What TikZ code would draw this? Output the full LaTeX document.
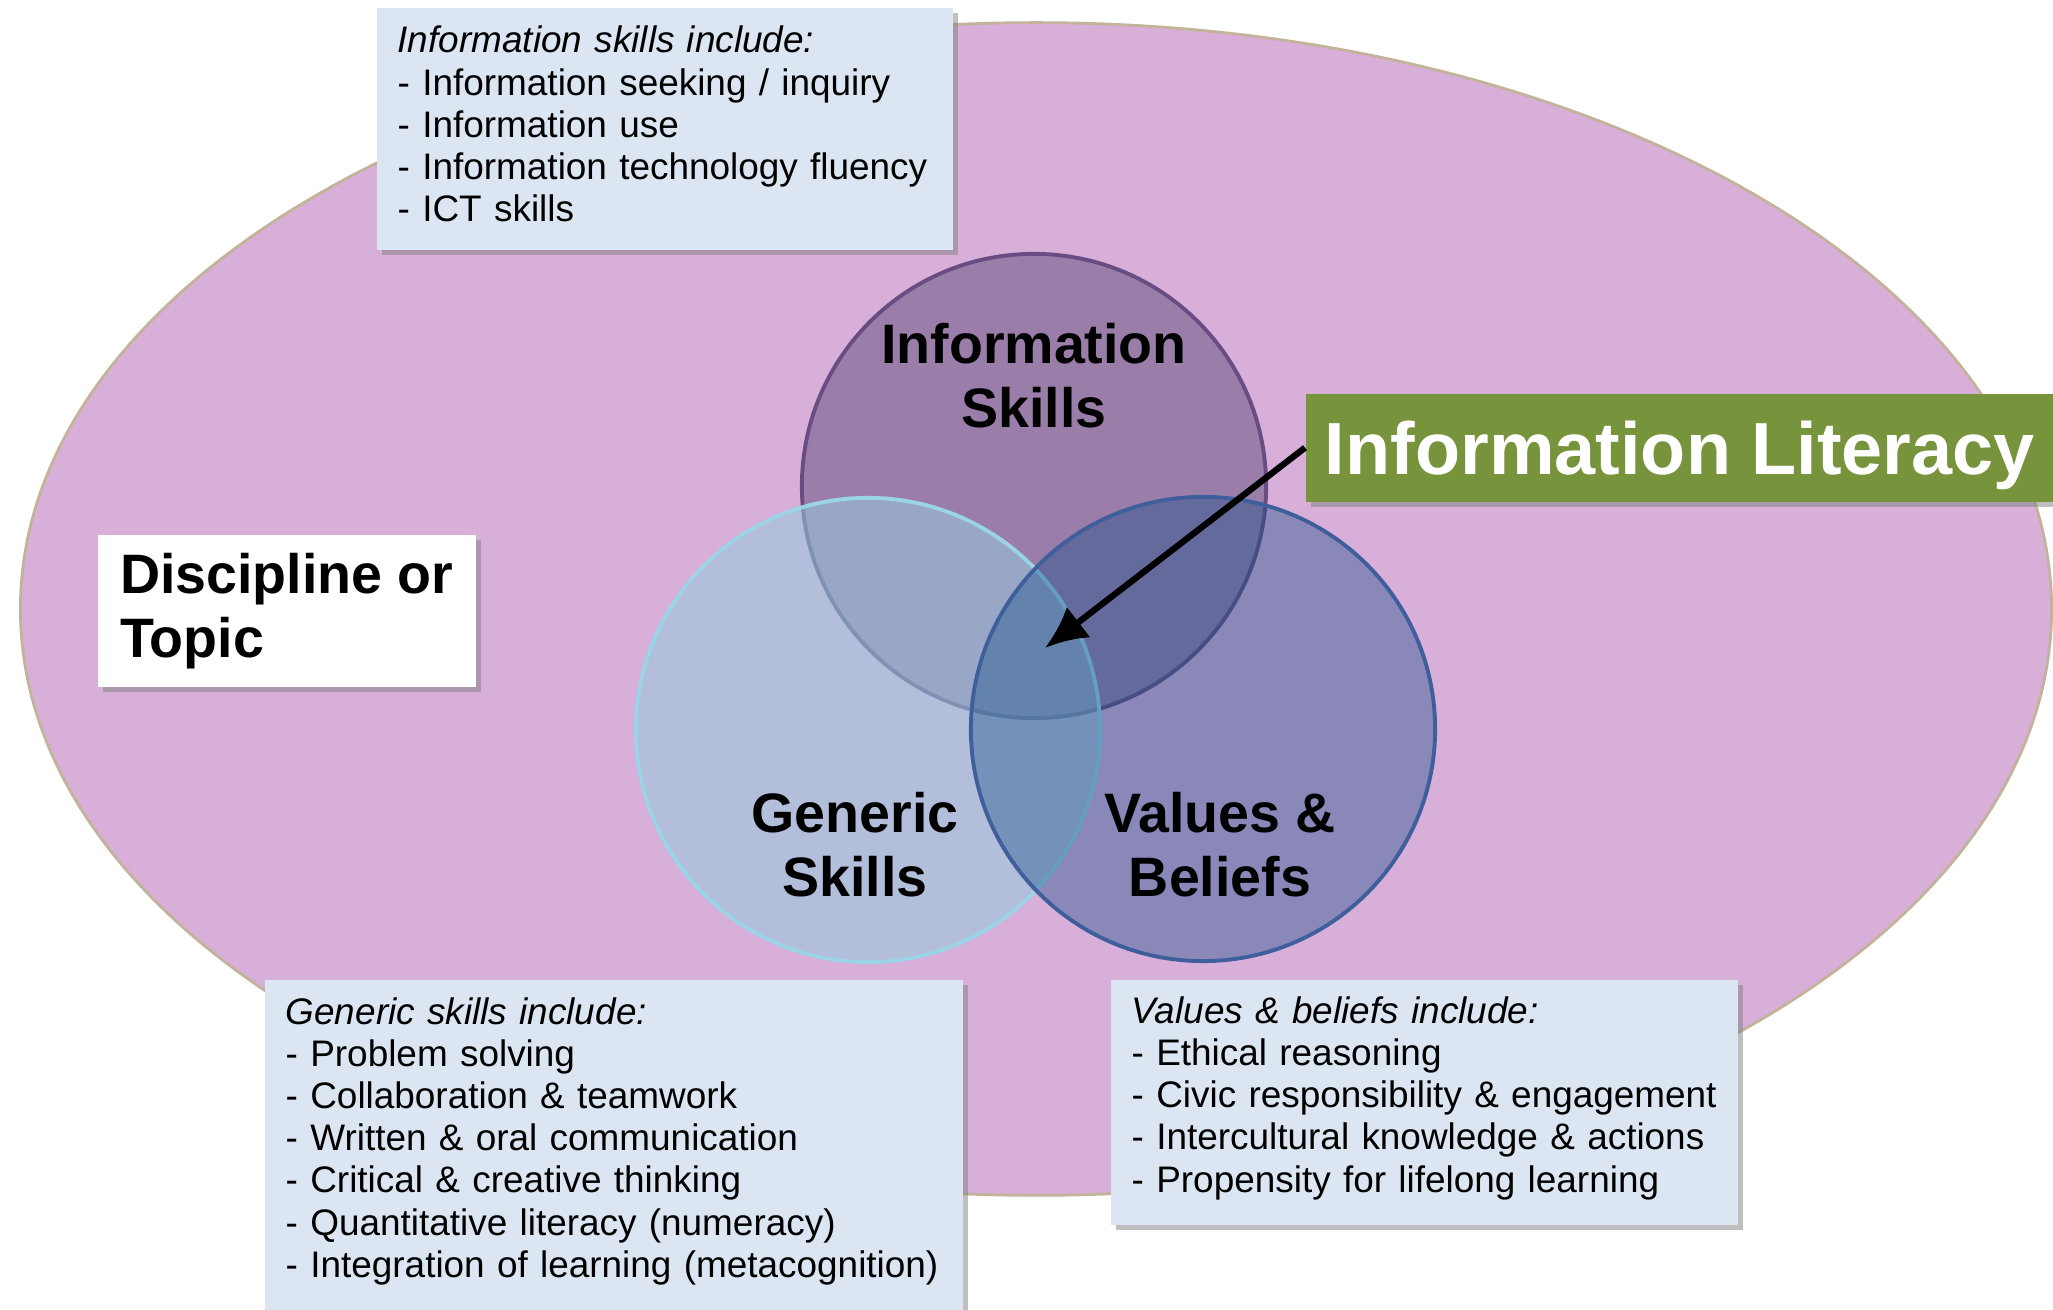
\documentclass[tikz,border=0pt]{standalone}
\usepackage{fontspec}
\setmainfont{Liberation Sans}
\usepackage{xcolor}
\usepackage{tikz}
\usetikzlibrary{arrows.meta,positioning,shadows}
\definecolor{topicPink}{HTML}{D8AFD8}
\definecolor{topicEdge}{HTML}{C2B39A}
\definecolor{infoFill}{HTML}{9B7DAA}
\definecolor{infoEdge}{HTML}{684C82}
\definecolor{genFill}{HTML}{96CBDC}
\definecolor{genEdge}{HTML}{9AD4E6}
\definecolor{valFill}{HTML}{154F88}
\definecolor{valEdge}{HTML}{3E5E9C}
\definecolor{noteFill}{HTML}{DCE6F2}
\definecolor{litGreen}{HTML}{77933C}

\tikzset{
  topicArea/.style={fill=topicPink, draw=topicEdge, line width=0.8pt},
  skillset/.style={circle, minimum size=4.64cm, inner sep=0pt, line width=1.1pt},
  setlabel/.style={align=center, inner sep=0pt, font=\fontsize{15.8}{18.2}\selectfont\bfseries},
  notebox/.style={anchor=north west, fill=noteFill, align=left, inner xsep=0.21cm, inner ysep=0pt,
    font=\fontsize{10.5}{12}\selectfont,
    drop shadow={shadow xshift=1.5pt, shadow yshift=-1.5pt, opacity=0.5}},
  topicbox/.style={anchor=north west, fill=white, align=left, inner sep=0pt,
    minimum width=3.78cm, minimum height=1.52cm, font=\fontsize{15.8}{18.2}\selectfont\bfseries,
    drop shadow={shadow xshift=1.5pt, shadow yshift=-1.5pt, opacity=0.5}},
  litbox/.style={anchor=north west, fill=litGreen, text=white, inner sep=0pt, text depth=0pt,
    minimum width=7.48cm, minimum height=1.08cm, font=\fontsize{21}{24}\selectfont\bfseries,
    drop shadow={shadow xshift=1.5pt, shadow yshift=-1.5pt, opacity=0.5}},
  litArrow/.style={-{Latex[length=12pt,width=11pt]}, line width=1.8pt, black}
}

\begin{document}
\begin{tikzpicture}[x=0.01cm, y=-0.01cm]
  \useasboundingbox (0,0) rectangle (2053,1310);
  \fill[white] (0,0) rectangle (2053,1310);
  \draw[topicArea] (1036,609) ellipse [x radius=10.15cm, y radius=5.86cm];

  \node[notebox, text width=5.34cm, minimum height=2.42cm] (infoNote) at (376,7)
    {\textit{Information skills include:}\\- Information seeking / inquiry\\- Information use\\- Information technology fluency\\- ICT skills\rule[-2.8pt]{0pt}{0pt}};

  \node[skillset, fill=infoFill, draw=infoEdge] (infoSet) at (1034,486) {};
  \node[skillset, fill=genFill, fill opacity=0.55, draw=genEdge] (genSet) at (868,730) {};
  \node[skillset, fill=valFill, fill opacity=0.4, draw=valEdge] (valSet) at (1203,729) {};

  \node[setlabel] (infoLbl) at (1034,376) {Information\\Skills};
  \node[setlabel] (genLbl) at (855,845) {Generic\\Skills};
  \node[setlabel] (valLbl) at (1220,845) {Values \&\\Beliefs};

  \coordinate (core) at (1045,648);
  \node[litbox] (litBox) at (1305,393) {Information Literacy};
  \draw[litArrow] (litBox.west) -- (core);

  \node[topicbox] (topicBox) at (97,534) {Discipline or\\Topic};

  \node[notebox, text width=6.56cm, minimum height=3.31cm] (genNote) at (264,979)
    {\textit{Generic skills include:}\\- Problem solving\\- Collaboration \& teamwork\\- Written \& oral communication\\- Critical \& creative thinking\\- Quantitative literacy (numeracy)\\- Integration of learning (metacognition)\rule[-4.5pt]{0pt}{0pt}};
  \node[notebox, text width=5.85cm, minimum height=2.45cm] (valNote) at (1110,979)
    {\textit{Values \& beliefs include:}\\- Ethical reasoning\\- Civic responsibility \& engagement\\- Intercultural knowledge \& actions\\- Propensity for lifelong learning\rule[-4.5pt]{0pt}{0pt}};
\end{tikzpicture}
\end{document}
